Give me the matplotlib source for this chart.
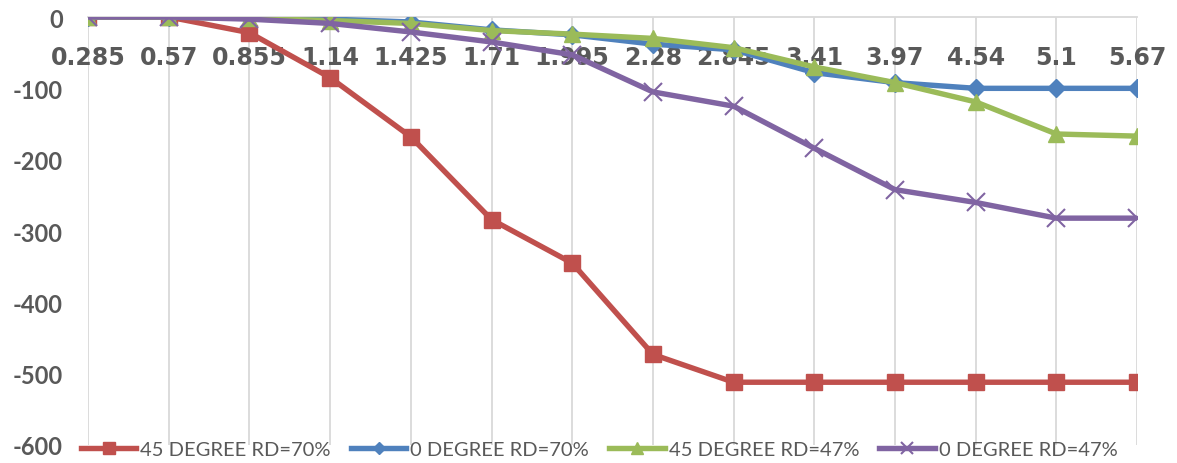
import matplotlib.pyplot as plt
import numpy as np

# расстояния (категории оси x)
x_labels = ['0.285', '0.57', '0.855', '1.14', '1.425', '1.71', '1.995',
            '2.28', '2.845', '3.41', '3.97', '4.54', '5.1', '5.67']

# значения для каждой серии
deg45_rd70 = [0, 0, -22, -85, -168, -284, -345, -473, -512, -512, -512, -512, -512, -512]
deg0_rd70 = [0, 0, 0, -3, -7, -18, -25, -38, -46, -78, -92, -100, -100, -100]
deg45_rd47 = [0, 0, -2, -5, -9, -19, -24, -30, -43, -70, -92, -119, -164, -167]
deg0_rd47 = [0, 0, -3, -9, -21, -35, -53, -105, -125, -184, -242, -260, -282, -282]

names = ['45 DEGREE RD=70%', '0 DEGREE RD=70%', '45 DEGREE RD=47%', '0 DEGREE RD=47%']
colors = ['#C0504D', '#4F81BD', '#9BBB59', '#8064A2']
markers = ['s', 'D', '^', 'x']
msizes = [12, 9, 12, 13]

y_ticks = [0, -100, -200, -300, -400, -500, -600]
text_color = '#595959'
grid_color = '#D9D9D9'


def main():
    fig = plt.figure(figsize=(11.77, 4.64), dpi=100)
    ax = fig.add_axes([0.0748, 0.0388, 0.8913, 0.9224])

    x = np.arange(len(x_labels))
    series = [deg45_rd70, deg0_rd70, deg45_rd47, deg0_rd47]
    for i, values in enumerate(series):
        ax.plot(x, values, color=colors[i], lw=3.9, marker=markers[i],
                markersize=msizes[i], markeredgewidth=1.5 if markers[i] == 'x' else 1,
                label=names[i], zorder=3 + i)

    # вертикальная сетка по категориям
    for xi in x:
        ax.plot([xi, xi], [0, -600], color=grid_color, lw=1.3, zorder=1)

    ax.set_xlim(0, len(x_labels) - 1)
    ax.set_ylim(-600, 0)
    ax.set_xticks(x)
    ax.set_xticklabels(x_labels)
    ax.set_yticks(y_ticks)
    ax.set_yticklabels([str(v) for v in y_ticks])

    for s in ['left', 'right', 'top']:
        ax.spines[s].set_visible(False)
    ax.spines['bottom'].set_position(('data', 0))
    ax.spines['bottom'].set_color(grid_color)
    ax.spines['bottom'].set_linewidth(1.3)
    ax.spines['bottom'].set_zorder(2)

    ax.tick_params(axis='both', length=0, colors=text_color)
    ax.tick_params(axis='x', pad=20)
    ax.tick_params(axis='y', pad=18)

    # шрифты подписей после tick_params
    for lab in ax.get_xticklabels():
        lab.set_fontsize(17)
        lab.set_fontweight('bold')
        lab.set_family('DejaVu Sans')
    for lab in ax.get_yticklabels():
        lab.set_fontsize(17)
        lab.set_fontweight('bold')
        lab.set_family('Lato')

    fig.legend(loc='center', bbox_to_anchor=(0.509, 0.03), ncol=4, frameon=False,
               prop={'family': 'Lato', 'size': 14.5}, handlelength=2.75,
               columnspacing=1.0, handletextpad=0.2,
               markerscale=0.7, labelcolor=text_color)

    fig.savefig('out.png', dpi=100)


if __name__ == '__main__':
    main()
